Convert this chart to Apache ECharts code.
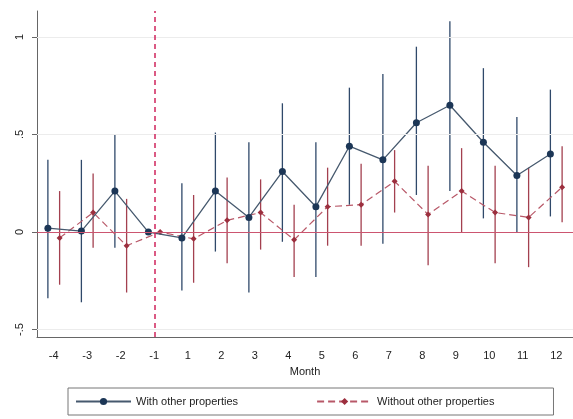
<!DOCTYPE html>
<html>
<head>
<meta charset="utf-8">
<script src="https://cdn.jsdelivr.net/npm/echarts@6/dist/echarts.min.js"></script>
<style>html,body{margin:0;padding:0;background:#fff;}#c{width:573px;height:419px;}</style>
</head>
<body>
<div id="c"></div>
<script>
const months = ['-4','-3','-2','-1','1','2','3','4','5','6','7','8','9','10','11','12'];
const yTicks = [-0.5, 0, 0.5, 1];
const yTickLabels = ['-.5', '0', '.5', '1'];

const withEst = [0.02, 0.005, 0.21, 0, -0.03, 0.21, 0.075, 0.31, 0.13, 0.44, 0.37, 0.56, 0.65, 0.46, 0.29, 0.40];
const withLo  = [-0.34, -0.36, -0.08, 0, -0.30, -0.10, -0.31, -0.05, -0.23, 0.14, -0.06, 0.19, 0.21, 0.07, 0.00, 0.08];
const withHi  = [0.37, 0.37, 0.50, 0, 0.25, 0.51, 0.46, 0.66, 0.46, 0.74, 0.81, 0.95, 1.08, 0.84, 0.59, 0.73];

const woEst = [-0.03, 0.10, -0.07, 0, -0.035, 0.06, 0.10, -0.04, 0.13, 0.14, 0.26, 0.09, 0.21, 0.10, 0.075, 0.23];
const woLo  = [-0.27, -0.08, -0.31, 0, -0.26, -0.16, -0.09, -0.23, -0.07, -0.07, 0.10, -0.17, 0.00, -0.16, -0.18, 0.05];
const woHi  = [0.21, 0.30, 0.17, 0, 0.19, 0.28, 0.27, 0.14, 0.33, 0.35, 0.42, 0.34, 0.43, 0.34, 0.33, 0.44];

const refMonth = '-1';
const nameWith = 'With other properties';
const nameWo = 'Without other properties';

const OFF = 0.175;
const FONT = 'Liberation Sans, Arial, sans-serif';
const BLUE_M = '#1c3656', BLUE_L = '#46596e', BLUE_E = '#30496a';
const RED_M = '#9c2f3e', RED_L = '#b85868', RED_E = '#a3404f';

function pts(est, off){ return est.map((v,i)=>[i+off, v]); }
function bars(lo, hi, off){ return lo.map((v,i)=>[i+off, v, hi[i]]); }
function errRender(color){
  return function(params, api){
    const x = api.value(0);
    const p1 = api.coord([x, api.value(1)]);
    const p2 = api.coord([x, api.value(2)]);
    return {type:'line', shape:{x1:p1[0], y1:p1[1], x2:p2[0], y2:p2[1]}, style:{stroke:color, lineWidth:1.3}};
  };
}

const chart = echarts.init(document.getElementById('c'), null, {renderer:'canvas'});
chart.setOption({
  animation:false,
  backgroundColor:'#fff',
  textStyle:{fontFamily:FONT},
  grid:{left:37, top:11, width:546, height:326, containLabel:false},
  xAxis:[
    {type:'value', position:'top', min:-0.5, max:15.5, show:false},
    {type:'category', position:'bottom', data:months, boundaryGap:true,
     axisLine:{onZero:false, lineStyle:{color:'#666', width:1}},
     axisTick:{alignWithLabel:true, length:5, lineStyle:{color:'#666'}},
     axisLabel:{color:'#222', fontSize:11, margin:13, interval:0, fontFamily:FONT},
     name:'Month', nameLocation:'middle', nameGap:29,
     nameTextStyle:{color:'#222', fontSize:11, fontFamily:FONT},
     splitLine:{show:false}}
  ],
  yAxis:{type:'value', min:-0.538, max:1.133,
    axisLine:{show:true, onZero:false, lineStyle:{color:'#666'}},
    axisTick:{show:true, length:5, customValues:yTicks, lineStyle:{color:'#666'}},
    axisLabel:{rotate:90, fontSize:11, color:'#222', margin:12, customValues:yTicks,
      formatter:(v)=>{const i = yTicks.findIndex(t=>Math.abs(t-v)<1e-6); return i>=0 ? yTickLabels[i] : '';}},
    splitLine:{show:false}},
  legend:{
    left:68, top:388, orient:'horizontal',
    data:[nameWith, nameWo],
    itemWidth:55, itemHeight:9, itemGap:78,
    padding:[8, 59, 8, 7],
    borderColor:'#777', borderWidth:1,
    textStyle:{fontSize:11, color:'#222', fontFamily:FONT}
  },
  series:[
    {type:'line', name:'grid', xAxisIndex:0, data:[], silent:true,
     markLine:{silent:true, symbol:'none', label:{show:false},
       lineStyle:{color:'#ececec', width:1, type:'solid'},
       data:yTicks.filter(v=>v!==0).map(v=>({yAxis:v}))}},
    {type:'custom', name:nameWith+' ci', xAxisIndex:0, renderItem:errRender(BLUE_E),
     data:bars(withLo, withHi, -OFF), z:2},
    {type:'custom', name:nameWo+' ci', xAxisIndex:0, renderItem:errRender(RED_E),
     data:bars(woLo, woHi, OFF), z:2},
    {type:'line', name:nameWo, xAxisIndex:0, data:pts(woEst, OFF), z:3,
     symbol:'diamond', symbolSize:6, showSymbol:true,
     lineStyle:{color:RED_L, width:1.2, type:[7,4]},
     itemStyle:{color:RED_M},
     markLine:{silent:true, symbol:'none', label:{show:false},
       data:[
         {yAxis:0, lineStyle:{color:'#cc5570', width:1, type:'solid'}},
         {xAxis:months.indexOf(refMonth), lineStyle:{color:'#d0245c', width:1.5, type:[5,4]}}
       ]}},
    {type:'line', name:nameWith, xAxisIndex:0, data:pts(withEst, -OFF), z:4,
     symbol:'circle', symbolSize:7, showSymbol:true,
     lineStyle:{color:BLUE_L, width:1.3},
     itemStyle:{color:BLUE_M}}
  ]
});
</script>
</body>
</html>
